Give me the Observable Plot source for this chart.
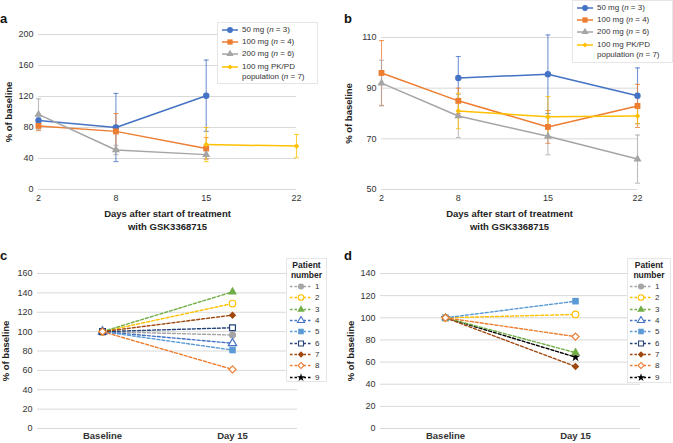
<!DOCTYPE html>
<html><head><meta charset="utf-8">
<script src="https://cdn.jsdelivr.net/npm/d3@7"></script>
<script src="https://cdn.jsdelivr.net/npm/@observablehq/plot@0.6"></script>
<style>
body{margin:0;background:#fff}
#root{position:relative;width:673px;height:443px;overflow:hidden;font-family:"Liberation Sans",Arial,Helvetica,sans-serif;color:#222;background:#fff}
.panel{position:absolute}
.plabel{position:absolute;font-weight:bold;font-size:13px;line-height:1;color:#111}
.legend{position:absolute;background:#fff;border:1px solid #e6e6e6;box-sizing:border-box;font-size:8px;color:#333}
.row{display:flex;align-items:center;white-space:nowrap}
.row svg{flex:none;display:block}
.cd g[aria-label="x-axis tick label"] text,.cd g[aria-label="x-axis"] text{font-weight:bold;font-size:9.5px}
</style></head>
<body>
<div id="root"></div>
<script>
// ---------------- DATA ----------------
const days = [2, 8, 15, 22];
const doseNames = ["50 mg", "100 mg", "200 mg", "100 mg PK/PD population"];
const doseN = [3, 4, 6, 7];
// Panel a: mean % of baseline and half error-bar length per day (null = no value)
const a50Mean  = [89, 80, 121, null];
const a50Err   = [3, 44, 46, null];
const a100Mean = [82, 75, 53, null];
const a100Err  = [6, 23, 14, null];
const a200Mean = [97, 51, 45, null];
const a200Err  = [20, 6, 5, null];
const aPkMean  = [null, null, 58, 56];
const aPkErr   = [null, null, 22, 15];
const aTicks = [0, 40, 80, 120, 160, 200];
// Panel b
const b50Mean  = [null, 94, 95.5, 87];
const b50Err   = [null, 8.5, 15.5, 11];
const b100Mean = [96, 85, 74.7, 83];
const b100Err  = [12.8, 5, 6.5, 8.5];
const b200Mean = [92, 79, 71, 62];
const b200Err  = [9, 8.5, 7.3, 9.5];
const bPkMean  = [null, 81, 78.7, 79];
const bPkErr   = [null, 7, 8, 3];
const bTicks = [50, 70, 90, 110];
// Panels c and d: per patient % of baseline
const timepoints = ["Baseline", "Day 15"];
const patients = [1, 2, 3, 4, 5, 6, 7, 8, 9];
const cBaseline = [100, 100, 100, 100, 100, 100, 100, 100, null];
const cDay15    = [96.5, 129, 141, 88, 81, 104, 117, 61, null];
const cTicks = [0, 20, 40, 60, 80, 100, 120, 140, 160];
const dBaseline = [null, 100, 100, null, 100, null, 100, 100, 100];
const dDay15    = [null, 103, 68.5, null, 115, null, 56, 83, 64.5];
const dTicks = [0, 20, 40, 60, 80, 100, 120, 140];

// ---------------- STYLE ----------------
const FONT = '"Liberation Sans", Arial, Helvetica, sans-serif';
const doseColors = ["#4472C4", "#ED7D31", "#A5A5A5", "#FFC000"];
const doseSymbols = ["circle", "square", "triangle", "diamond2"];
const doseR = [3.2, 3.3, 3.0, 2.5];
const patColors = ["#A5A5A5", "#FFC000", "#70AD47", "#4472C4", "#5B9BD5", "#264478", "#9E480E", "#ED7D31", "#000000"];
const patSymbols = ["circle", "circle", "triangle", "triangle", "square", "square", "diamond2", "diamond2", "star"];
const patFilled = [true, false, true, false, true, false, true, false, true];
const patR = [3.6, 3.3, 3.3, 3.1, 3.7, 3.3, 3.4, 3.2, 3.0];
const drawOrder = [8, 0, 1, 2, 3, 4, 5, 6, 7];
const d3Sym = {circle: d3.symbolCircle, square: d3.symbolSquare, triangle: d3.symbolTriangle, diamond2: d3.symbolDiamond2, star: d3.symbolStar};
const cap = {draw(ctx) { ctx.moveTo(-2.5, 0); ctx.lineTo(2.5, 0); }};

const root = document.getElementById("root");
function place(node, left, top, cls) {
  const div = document.createElement("div");
  div.className = "panel" + (cls ? " " + cls : "");
  div.style.left = left + "px"; div.style.top = top + "px";
  div.appendChild(node); root.appendChild(div); return div;
}
function label(txt, left, top) {
  const d = document.createElement("div"); d.className = "plabel";
  d.style.left = left + "px"; d.style.top = top + "px"; d.textContent = txt; root.appendChild(d);
}
function doseRows(means, errs) {
  return means.map((m, i) => m == null ? null : {day: days[i], mean: m, lo: m - errs[i], hi: m + errs[i]}).filter(Boolean);
}
const baseStyle = {fontFamily: FONT, fontSize: "9px", color: "#333", background: "transparent", overflow: "visible"};
const titleOpts = {textAnchor: "middle", lineAnchor: "middle", fontWeight: "bold", fontSize: 9.5, fill: "#222"};

function panelAB({means, errs, yDomain, yTicks, width, marginLeft, marginRight, marginTop, marginBottom, ylDx}) {
  const marks = [Plot.ruleY(yTicks, {stroke: "#d9d9d9", strokeWidth: 1})];
  const series = means.map((m, s) => doseRows(m, errs[s]));
  series.forEach((rows, s) => {
    const o = {stroke: doseColors[s], strokeOpacity: 0.75, strokeWidth: 1.1};
    marks.push(Plot.ruleX(rows, {x: "day", y1: "lo", y2: "hi", ...o}));
    marks.push(Plot.dot(rows, {x: "day", y: "lo", symbol: cap, fill: "none", ...o}));
    marks.push(Plot.dot(rows, {x: "day", y: "hi", symbol: cap, fill: "none", ...o}));
  });
  series.forEach((rows, s) => {
    marks.push(Plot.line(rows, {x: "day", y: "mean", stroke: doseColors[s], strokeWidth: 1.5}));
    marks.push(Plot.dot(rows, {x: "day", y: "mean", symbol: doseSymbols[s], r: doseR[s], fill: doseColors[s], stroke: "none"}));
  });
  marks.push(Plot.text(["% of baseline"], {frameAnchor: "left", dx: ylDx, rotate: -90, ...titleOpts}));
  marks.push(Plot.text(["Days after start of treatment"], {frameAnchor: "bottom", dy: 24, ...titleOpts}));
  marks.push(Plot.text(["with GSK3368715"], {frameAnchor: "bottom", dy: 37, ...titleOpts}));
  return Plot.plot({
    width, height: 236, marginLeft, marginRight, marginTop, marginBottom,
    style: baseStyle,
    x: {type: "linear", domain: [2, 22], ticks: days, tickSize: 0, tickPadding: 5, label: null},
    y: {domain: yDomain, ticks: yTicks, tickSize: 0, tickPadding: 5, label: null},
    marks
  });
}

function panelCD({base, day15, yMax, yTicks, width, marginLeft, marginRight, ylDx}) {
  const marks = [Plot.ruleY(yTicks, {stroke: "#d9d9d9", strokeWidth: 1})];
  drawOrder.forEach((i) => {
    if (day15[i] == null) return;
    const rows = [{t: timepoints[0], v: base[i]}, {t: timepoints[1], v: day15[i]}];
    marks.push(Plot.line(rows, {x: "t", y: "v", stroke: patColors[i], strokeWidth: 1.4, strokeDasharray: "3,2"}));
    marks.push(Plot.dot(rows, {x: "t", y: "v", symbol: patSymbols[i], r: patR[i],
      fill: patFilled[i] ? patColors[i] : "#fff", stroke: patColors[i], strokeWidth: patFilled[i] ? 0 : 1.2}));
  });
  marks.push(Plot.text(["% of baseline"], {frameAnchor: "left", dx: ylDx, rotate: -90, ...titleOpts}));
  return Plot.plot({
    width, height: 207, marginLeft, marginRight, marginTop: 37, marginBottom: 15,
    style: baseStyle,
    x: {type: "point", domain: timepoints, padding: 0.5, tickSize: 0, tickPadding: 4, label: null},
    y: {domain: [0, yMax], ticks: yTicks, tickSize: 0, tickPadding: 5, label: null},
    marks
  });
}

function swatch(w, h, color, sym, r, filled, dashed) {
  const svg = d3.create("svg").attr("width", w).attr("height", h);
  svg.append("line").attr("x1", 0).attr("x2", w).attr("y1", h / 2).attr("y2", h / 2)
    .attr("stroke", color).attr("stroke-width", 1.5).attr("stroke-dasharray", dashed ? "2.5,2" : null);
  svg.append("path").attr("transform", `translate(${w / 2},${h / 2})`)
    .attr("d", d3.symbol(d3Sym[sym], Math.PI * r * r)())
    .attr("fill", filled ? color : "#fff").attr("stroke", filled ? "none" : color).attr("stroke-width", 1.1);
  return svg.node();
}

function doseLegend(left, top, width, height, swW) {
  const box = document.createElement("div"); box.className = "legend";
  Object.assign(box.style, {left: left + "px", top: top + "px", width: width + "px", height: height + "px", padding: "0 0 0 4px"});
  doseNames.forEach((name, s) => {
    const row = document.createElement("div"); row.className = "row";
    row.style.alignItems = "flex-start";
    row.style.height = s < 3 ? "12.4px" : "auto";
    const sw = swatch(swW, 10, doseColors[s], doseSymbols[s], doseR[s] * 0.9, true, false);
    sw.style.marginTop = "1.5px"; sw.style.marginRight = "4px";
    row.appendChild(sw);
    const t = document.createElement("div"); t.style.lineHeight = "10.5px"; t.style.paddingTop = "1.5px";
    if (s === 3) t.innerHTML = `100 mg PK/PD<br>population (<i>n</i> = ${doseN[s]})`;
    else t.innerHTML = `${name} (<i>n</i> = ${doseN[s]})`;
    row.appendChild(t); box.appendChild(row);
  });
  root.appendChild(box);
}

function patientLegend(left, top, width, height, padL) {
  const box = document.createElement("div"); box.className = "legend";
  Object.assign(box.style, {left: left + "px", top: top + "px", width: width + "px", height: height + "px", paddingTop: "1px"});
  const title = document.createElement("div");
  title.innerHTML = "Patient<br>number";
  Object.assign(title.style, {fontWeight: "bold", fontSize: "8.5px", lineHeight: "10px", textAlign: "center", color: "#222", marginBottom: "1px"});
  box.appendChild(title);
  patients.forEach((p, i) => {
    const row = document.createElement("div"); row.className = "row";
    row.style.height = "11.3px"; row.style.paddingLeft = padL + "px";
    const sw = swatch(22, 9, patColors[i], patSymbols[i], patR[i] * 0.85, patFilled[i], true);
    sw.style.marginRight = "3px";
    row.appendChild(sw);
    const t = document.createElement("span"); t.textContent = p; row.appendChild(t);
    box.appendChild(row);
  });
  root.appendChild(box);
}

// ---------------- BUILD ----------------
place(panelAB({means: [a50Mean, a100Mean, a200Mean, aPkMean], errs: [a50Err, a100Err, a200Err, aPkErr],
  yDomain: [0, 200], yTicks: aTicks, width: 336, marginLeft: 38, marginRight: 40, marginTop: 34, marginBottom: 47, ylDx: -30}), 0, 0);
place(panelAB({means: [b50Mean, b100Mean, b200Mean, bPkMean], errs: [b50Err, b100Err, b200Err, bPkErr],
  yDomain: [50, 110], yTicks: bTicks, width: 337, marginLeft: 45, marginRight: 36, marginTop: 37, marginBottom: 47, ylDx: -33}), 336, 0);
place(panelCD({base: cBaseline, day15: cDay15, yMax: 160, yTicks: cTicks, width: 336, marginLeft: 37, marginRight: 39, ylDx: -32}), 0, 236, "cd");
place(panelCD({base: dBaseline, day15: dDay15, yMax: 140, yTicks: dTicks, width: 337, marginLeft: 44, marginRight: 33, ylDx: -30}), 336, 236, "cd");

doseLegend(217, 22, 101, 62, 16);
doseLegend(572, 0, 101, 63, 16);
patientLegend(286, 258, 41, 124, 3);
patientLegend(627, 258, 44, 125, 2);

label("a", 0, 12);
label("b", 344, 12);
label("c", 0, 249);
label("d", 344, 249);
</script>
</body></html>
